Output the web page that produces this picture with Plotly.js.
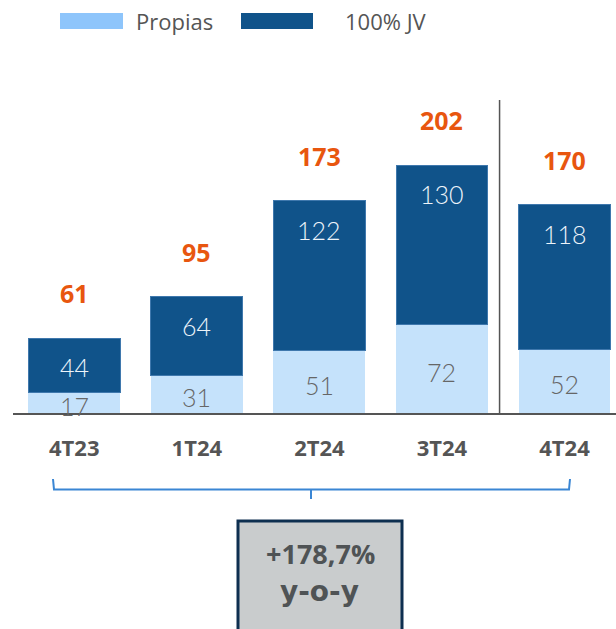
<!DOCTYPE html>
<html>
<head>
<meta charset="utf-8">
<script src="https://cdn.plot.ly/plotly-3.0.1.min.js"></script>
<style>
html,body{margin:0;padding:0;background:#fff;}
#chart{width:616px;height:629px;}
</style>
</head>
<body>
<div id="chart"></div>
<script>
const categories = ['4T23', '1T24', '2T24', '3T24', '4T24'];
const propias = [17, 31, 51, 72, 52];
const jv = [44, 64, 122, 130, 118];
const totals = [61, 95, 173, 202, 170];
const seriesNames = ['Propias', '100% JV'];
const growthLabel = ['+178,7%', 'y-o-y'];

const W = 616, H = 629;
const L = 13, R = 0, T = 60, B = 216;
const plotW = W - L - R, plotH = H - T - B;
const px = x => (x - L) / plotW;
const py = y => (H - B - y) / plotH;

const FONT = '"Open Sans", "Noto Sans", sans-serif';
const WIDE = '"DejaVu Sans", "Open Sans", sans-serif';
const LIGHT = 'Lato, "Open Sans", sans-serif';
const darkBlue = '#10538a';
const lightBlue = '#c5e2fb';
const legendLight = '#8ec5fb';
const orange = '#e8560f';
const grey = '#555555';

const traces = [
  {type: 'bar', name: seriesNames[0], x: categories, y: propias,
   marker: {color: lightBlue}, width: 0.75, hoverinfo: 'x+y'},
  {type: 'bar', name: seriesNames[1], x: categories, y: jv,
   marker: {color: darkBlue, line: {color: '#3f78ad', width: 1}}, width: 0.75, hoverinfo: 'x+y'}
];

const annotations = [];
categories.forEach((c, i) => {
  annotations.push({x: c, y: totals[i], xref: 'x', yref: 'y', text: String(totals[i]),
    showarrow: false, yshift: 45, font: {family: FONT, size: 25, color: orange, weight: 700}});
  annotations.push({x: c, y: totals[i], xref: 'x', yref: 'y', text: String(jv[i]),
    showarrow: false, yshift: -29, font: {family: LIGHT, size: 25, color: '#eef4fa', weight: 300}});
  annotations.push({x: c, y: propias[i] / 2, xref: 'x', yref: 'y', text: String(propias[i]),
    showarrow: false, yshift: -3, font: {family: LIGHT, size: 25, color: '#666666', weight: 300}});
});

// legend
annotations.push({x: px(134), y: py(21), xref: 'paper', yref: 'paper', xanchor: 'left', yanchor: 'middle',
  text: seriesNames[0], showarrow: false, font: {family: FONT, size: 22, color: grey}});
annotations.push({x: px(343), y: py(21), xref: 'paper', yref: 'paper', xanchor: 'left', yanchor: 'middle',
  text: seriesNames[1], showarrow: false, font: {family: FONT, size: 22, color: grey}});

// growth box text
annotations.push({x: px(320), y: py(553), xref: 'paper', yref: 'paper', xanchor: 'center', yanchor: 'middle',
  text: growthLabel[0], showarrow: false, font: {family: FONT, size: 27, color: '#4f5355', weight: 700}});
annotations.push({x: px(319), y: py(591), xref: 'paper', yref: 'paper', xanchor: 'center', yanchor: 'middle',
  text: growthLabel[1], showarrow: false, font: {family: WIDE, size: 28, color: '#4f5355', weight: 700}});

const shapes = [
  // legend swatches
  {type: 'rect', xref: 'paper', yref: 'paper', x0: px(60), x1: px(123), y0: py(29), y1: py(13),
   fillcolor: legendLight, line: {width: 0}},
  {type: 'rect', xref: 'paper', yref: 'paper', x0: px(241), x1: px(313), y0: py(29), y1: py(13),
   fillcolor: darkBlue, line: {width: 0}},
  // separator
  {type: 'line', xref: 'x', yref: 'paper', x0: 3.47, x1: 3.47, y0: 0, y1: py(100),
   line: {color: grey, width: 1.5}},
  // brace
  {type: 'path', xref: 'paper', yref: 'paper',
   path: `M ${px(53)} ${py(479)} L ${px(54)} ${py(489.5)} L ${px(569)} ${py(489.5)} L ${px(570)} ${py(479)} M ${px(311)} ${py(489.5)} L ${px(311)} ${py(499)}`,
   line: {color: '#3a86d4', width: 2}},
  // growth box
  {type: 'rect', xref: 'paper', yref: 'paper', x0: px(238), x1: px(402), y0: py(640), y1: py(521),
   fillcolor: '#c9cccd', line: {color: '#0e2f50', width: 3}}
];

const layout = {
  width: W, height: H,
  margin: {l: L, r: R, t: T, b: B, pad: 0},
  barmode: 'stack',
  showlegend: false,
  paper_bgcolor: '#ffffff',
  plot_bgcolor: '#ffffff',
  xaxis: {type: 'category', range: [-0.5, 4.42], showgrid: false, zeroline: false,
    showline: true, linecolor: grey, linewidth: 2, ticks: '',
    tickfont: {family: FONT, size: 22, color: grey, weight: 700}, ticklabelstandoff: 15,
    fixedrange: true},
  yaxis: {range: [0, 288], showgrid: false, zeroline: false, showline: false,
    showticklabels: false, ticks: '', fixedrange: true},
  annotations: annotations,
  shapes: shapes
};

Plotly.newPlot('chart', traces, layout, {displayModeBar: false, staticPlot: true});
</script>
</body>
</html>
